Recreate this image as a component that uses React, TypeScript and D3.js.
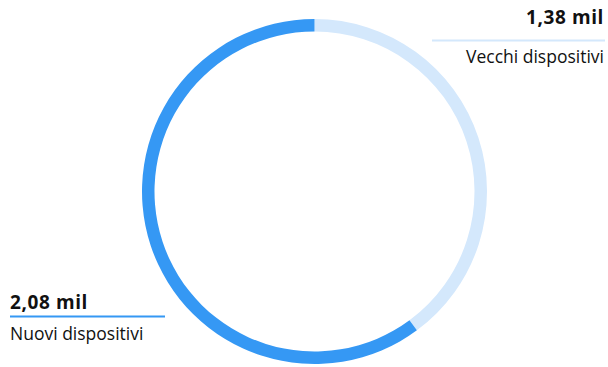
import React from "react";
import * as d3 from "d3";

const categories = ["Vecchi dispositivi", "Nuovi dispositivi"];
const values = [1.38, 2.08];
const valueLabels = ["1,38 mil", "2,08 mil"];
const colors = ["#d4e8fc", "#3598f4"];

export default function App() {
  const W = 608, H = 367;
  const cx = 314.5, cy = 191.5, rOuter = 172.5, thick = 12.5;
  const pie = d3.pie<number>().sort(null).value((d) => d)(values);
  const arc = d3.arc<d3.PieArcDatum<number>>().innerRadius(rOuter - thick).outerRadius(rOuter);
  const font = "'Open Sans', sans-serif";
  return (
    <svg width={W} height={H} style={{ position: "absolute", left: 0, top: 0 }}>
      <rect width={W} height={H} fill="#fff" />
      <g transform={`translate(${cx},${cy})`}>
        {pie.map((p, i) => (
          <path key={i} d={arc(p) || ""} fill={colors[i]} />
        ))}
      </g>
      {/* top-right label */}
      <text x={604} y={24} textAnchor="end" fontFamily={font} fontWeight={700} fontSize={19} letterSpacing={0.6} fill="#111">{valueLabels[0]}</text>
      <line x1={432} x2={605} y1={40.5} y2={40.5} stroke={colors[0]} strokeWidth={2} />
      <text x={604} y={62.5} textAnchor="end" fontFamily={font} fontSize={17.5} fill="#111">{categories[0]}</text>
      {/* bottom-left label */}
      <text x={10} y={308.5} fontFamily={font} fontWeight={700} fontSize={19} letterSpacing={0.6} fill="#111">{valueLabels[1]}</text>
      <line x1={10} x2={165} y1={316.5} y2={316.5} stroke={colors[1]} strokeWidth={2} />
      <text x={10} y={340} fontFamily={font} fontSize={17.5} fill="#111">{categories[1]}</text>
    </svg>
  );
}
